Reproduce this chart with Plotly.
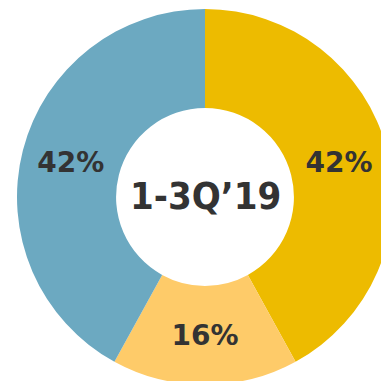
import plotly.graph_objects as go

# Share of the period split into three parts (percent)
segments = ["Segment A", "Segment B", "Segment C"]
shares = [42, 16, 42]
colors = ["#EDBB00", "#FECB69", "#6CA9C1"]
center_label = "1-3Q\u201919"

W, H = 410, 410
cx, cy, r = 205, 197, 188  # donut centre and outer radius in pixels

fig = go.Figure(
    go.Pie(
        labels=segments,
        values=shares,
        hole=0.473,
        sort=False,
        direction="clockwise",
        rotation=0,
        marker=dict(colors=colors, line=dict(width=0)),
        texttemplate="%{value}%",
        textposition="inside",
        insidetextorientation="horizontal",
        textfont=dict(family="DejaVu Sans", size=28, color="#333333", weight="bold"),
        domain=dict(x=[(cx - r) / W, (cx + r) / W], y=[1 - (cy + r) / H, 1 - (cy - r) / H]),
        showlegend=False,
        hoverinfo="label+percent",
    )
)

# Period label in the hole
fig.add_annotation(
    text=center_label,
    x=cx / W,
    y=1 - 196 / H,
    xref="paper",
    yref="paper",
    xanchor="center",
    yanchor="middle",
    showarrow=False,
    font=dict(family="DejaVu Sans Condensed, DejaVu Sans", size=38, color="#333333", weight="bold"),
)

fig.update_layout(
    width=W,
    height=H,
    margin=dict(l=0, r=0, t=0, b=0),
    paper_bgcolor="white",
    plot_bgcolor="white",
    showlegend=False,
)

fig.write_html(
    "out.html",
    post_script="document.documentElement.style.overflow='hidden';document.body.style.overflow='hidden';document.body.style.margin='0';",
)
